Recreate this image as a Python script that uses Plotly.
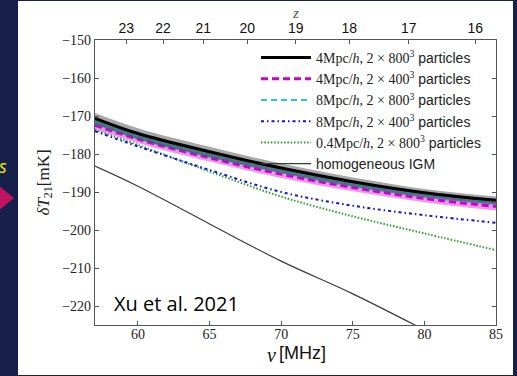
import plotly.graph_objects as go

# ---------------- data ----------------
freq = [57, 60, 65, 70, 75, 80, 85]
t_4_800 = [-170.6, -174.6, -179.4, -183.7, -187.3, -190.2, -192.2]
t_8_800 = [-171.5, -175.3, -180.1, -184.3, -187.9, -190.7, -192.6]
t_4_400 = [-172.4, -176.1, -181.0, -185.3, -188.8, -191.7, -193.8]
t_8_400 = [-174.0, -178.0, -184.2, -190.0, -193.6, -196.1, -198.1]
t_04_800 = [-173.6, -177.6, -184.6, -191.2, -196.4, -200.9, -205.3]
freq_igm = [57, 60, 65, 70, 75, 80]
t_igm = [-183.2, -188.5, -198.4, -208.2, -216.8, -226.3]
band_4_800 = [1.4, 1.4, 1.3, 1.2, 1.1, 1.0, 1.0]
band_8_800 = [0.9, 0.9, 0.9, 0.8, 0.8, 0.8, 0.8]
band_4_400 = [1.0, 1.0, 1.0, 1.0, 1.0, 1.0, 1.1]
z_ticks = [23, 22, 21, 20, 19, 18, 17, 16]
y_ticks = [-150, -160, -170, -180, -190, -200, -210, -220]
x_ticks = [60, 65, 70, 75, 80, 85]
NU21 = 1420.405751  # rest frequency in MHz, nu = NU21/(1+z)

SERIF = "Liberation Serif"
SANS = "Liberation Sans"

# plot-area pixel geometry
W, H = 517, 376
L, R, T, B = 95, 21, 40, 51
PW, PH = W - L - R, H - T - B


def px(xp):
    return (xp - L) / PW


def py(yp):
    return (H - B - yp) / PH


def lbl(box):
    return (f"<span style=\"font-family:{SERIF}\">{box}</span>"
            f"<span style=\"font-family:{SANS}\"> particles</span>")


fig = go.Figure()


def band(xs, ys, hw, color):
    lo = [y - h for y, h in zip(ys, hw)]
    hi = [y + h for y, h in zip(ys, hw)]
    fig.add_trace(go.Scatter(x=xs, y=lo, mode="lines", line=dict(width=0, shape="spline"),
                             showlegend=False, hoverinfo="skip"))
    fig.add_trace(go.Scatter(x=xs, y=hi, mode="lines", line=dict(width=0, shape="spline"),
                             fill="tonexty", fillcolor=color, showlegend=False, hoverinfo="skip"))


fig.add_trace(go.Scatter(x=freq_igm, y=t_igm, mode="lines", name="homogeneous IGM",
                         line=dict(color="#3a3a3a", width=1.2, shape="spline"), legendrank=6))
fig.add_trace(go.Scatter(x=freq, y=t_04_800, mode="lines",
                         name=lbl("0.4Mpc/<i>h</i>, 2 × 800<sup>3</sup>"),
                         line=dict(color="#2ca02c", width=2, dash="1.5px,1.8px", shape="spline"),
                         legendrank=5))
fig.add_trace(go.Scatter(x=freq, y=t_8_400, mode="lines",
                         name=lbl("8Mpc/<i>h</i>, 2 × 400<sup>3</sup>"),
                         line=dict(color="#1010ee", width=2, dash="3px,3px,1.5px,3px", shape="spline"),
                         legendrank=4))
band(freq, t_4_400, band_4_400, "rgba(230,60,220,0.55)")
fig.add_trace(go.Scatter(x=freq, y=t_4_400, mode="lines",
                         name=lbl("4Mpc/<i>h</i>, 2 × 400<sup>3</sup>"),
                         line=dict(color="#cc00cc", width=3, dash="7px,4px", shape="spline"),
                         legendrank=2))
band(freq, t_8_800, band_8_800, "rgba(40,120,150,0.6)")
fig.add_trace(go.Scatter(x=freq, y=t_8_800, mode="lines",
                         name=lbl("8Mpc/<i>h</i>, 2 × 800<sup>3</sup>"),
                         line=dict(color="#22cccc", width=2.2, dash="6px,4px", shape="spline"),
                         legendrank=3))
band(freq, t_4_800, band_4_800, "rgba(60,60,60,0.45)")
fig.add_trace(go.Scatter(x=freq, y=t_4_800, mode="lines",
                         name=lbl("4Mpc/<i>h</i>, 2 × 800<sup>3</sup>"),
                         line=dict(color="black", width=3, shape="spline"),
                         legendrank=1))

# top z axis (dummy trace to activate it)
fig.add_trace(go.Scatter(x=[57, 85], y=[-150, -150], xaxis="x2", mode="lines",
                         line=dict(width=0), showlegend=False, hoverinfo="skip"))

axis_col = "#555555"


def ann(text, x, y, font, **kw):
    return dict(text=text, x=px(x), y=py(y), xref="paper", yref="paper", showarrow=False,
                xanchor="center", yanchor="middle", font=font, **kw)


fig.update_layout(
    width=W, height=H,
    margin=dict(l=L, r=R, t=T, b=B),
    paper_bgcolor="#16204a",
    plot_bgcolor="white",
    showlegend=True,
    legend=dict(x=px(256), y=py(42), xanchor="left", yanchor="top", traceorder="normal",
                bgcolor="rgba(0,0,0,0)", font=dict(family=SANS, size=14, color="#222"),
                itemwidth=50, tracegroupgap=0),
    xaxis=dict(range=[57, 85], tickvals=x_ticks, ticks="inside", ticklen=4,
               tickcolor=axis_col, showline=True, linecolor=axis_col, linewidth=1.2,
               showgrid=False, zeroline=False, mirror=False, ticklabelstandoff=-4,
               tickfont=dict(family=SERIF, size=14, color="#222")),
    xaxis2=dict(range=[57, 85], overlaying="x", side="top",
                tickvals=[NU21 / (1 + z) for z in z_ticks], ticktext=[str(z) for z in z_ticks],
                ticks="inside", ticklen=4, tickcolor=axis_col, showline=True,
                linecolor=axis_col, linewidth=1.2, showgrid=False, zeroline=False,
                tickfont=dict(family=SANS, size=14, color="#111")),
    yaxis=dict(range=[-225, -150], tickvals=y_ticks, ticks="inside", ticklen=4,
               tickcolor=axis_col, showline=True, linecolor=axis_col, linewidth=1.2,
               mirror="ticks", showgrid=False, zeroline=False,
               tickfont=dict(family=SERIF, size=14, color="#222")),
    shapes=[
        dict(type="rect", xref="paper", yref="paper", x0=px(18), x1=px(513),
             y0=py(375), y1=py(1), fillcolor="white", line=dict(width=0), layer="below"),
        dict(type="path", xref="paper", yref="paper",
             path=f"M{px(-2)},{py(185)} L{px(14)},{py(198)} L{px(-2)},{py(211)} Z",
             fillcolor="#c0145e", line=dict(width=0), layer="below"),
    ],
    annotations=[
        ann("Xu et al. 2021", 176.5, 303, dict(family="Open Sans", size=20, color="black")),
        ann("<i>z</i>", 295.5, 13, dict(family=SERIF, size=15, color="#555")),
        ann("<i>ν</i>", 271, 355, dict(family=SERIF, size=20, color="#111")),
        ann("[MHz]", 302.5, 353, dict(family=SANS, size=18, color="#111")),
        ann("<i>δT</i><sub>21</sub>[mK]", 44, 182.5, dict(family=SERIF, size=17, color="#222"),
            textangle=-90),
        ann("<i>s</i>", 3, 166, dict(family="Open Sans", size=18, color="#f2e600")),
    ],
)

fig.write_html("out.html", config={"displayModeBar": False},
               post_script="document.body.style.margin='0px';")
